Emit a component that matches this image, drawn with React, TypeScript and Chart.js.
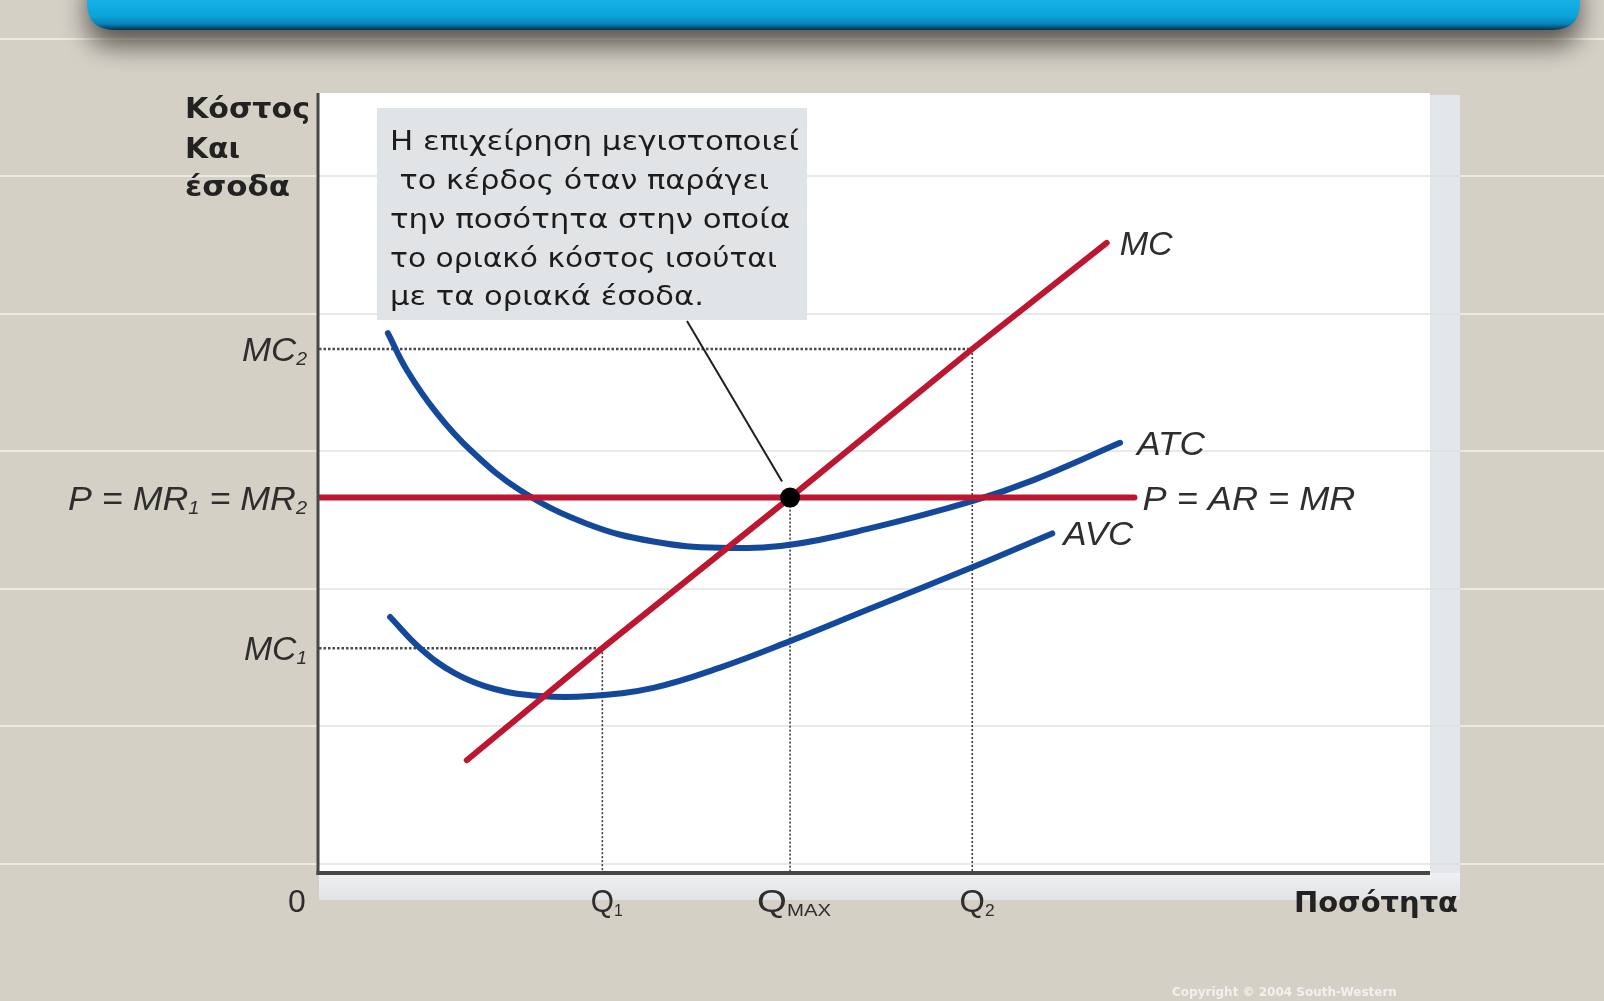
import React, { useEffect, useRef } from "react";
import { Chart, registerables } from "chart.js";

Chart.register(...registerables);

const W = 1604;
const H = 1001;

// ---------- Data ----------
// Quantity levels marked on the x axis: Q1, QMAX, Q2
const qValues = [25.5, 42.4, 58.8];
const qLabels = [["Q", "1"], ["Q", "MAX"], ["Q", "2"]];

// Cost / revenue levels marked on the y axis: MC1, P = MR, MC2
const costValues = [28.9, 48.25, 67.35];
const costLabels = [["MC", "1"], ["P = MR", "1", " = MR", "2"], ["MC", "2"]];

// Marginal cost
const mcQuantity = [13.3, 25.5, 42.4, 58.8, 70.9];
const mcCost = [14.5, 28.9, 48.25, 67.35, 81.0];

// Average total cost
const atcQuantity = [6.2, 7.9, 10.6, 13.6, 18.1, 24.1, 30.1, 36.1, 42.4, 49.3, 58.8, 64.3, 72.1];
const atcCost = [69.4, 64.65, 59.1, 54.4, 49.2, 44.9, 42.6, 41.8, 42.2, 44.2, 47.8, 50.5, 55.3];

// Average variable cost
const avcQuantity = [6.4, 9.1, 12.2, 15.8, 19.9, 24.4, 30.1, 36.1, 42.4, 49.3, 58.8, 66.0];
const avcCost = [32.9, 28.9, 25.7, 23.65, 22.75, 22.75, 23.8, 26.4, 29.8, 33.8, 39.3, 43.65];

// Price line P = AR = MR
const mrQuantity = [0, 73.4];
const mrPrice = [48.25, 48.25];

// Texts
const yTitle = ["Κόστος", "Και", "έσοδα"];
const xTitle = "Ποσότητα";
const zeroLabel = "0";
const curveLabels = ["MC", "ATC", "P = AR = MR", "AVC"];
const noteLines = [
  "Η επιχείρηση μεγιστοποιεί",
  " το κέρδος όταν παράγει",
  "την ποσότητα στην οποία",
  "το οριακό κόστος ισούται",
  "με τα οριακά έσοδα.",
];
const copyright = "Copyright © 2004 South-Western";

// ---------- Styles ----------
const RED = "#bd1631";
const BLUE = "#13489b";
const BG = "#d5d0c6";
const TEXT = "#2e2e2e";

type Align = "left" | "right" | "center" | "first";

function drawRich(
  ctx: CanvasRenderingContext2D,
  parts: string[],
  x: number,
  y: number,
  o: { align: Align; font: string; subFont?: string; subDy?: number; width?: number; color?: string }
) {
  ctx.save();
  const widths = parts.map((p, i) => {
    ctx.font = i % 2 && o.subFont ? o.subFont : o.font;
    return ctx.measureText(p).width;
  });
  const total = widths.reduce((a, b) => a + b, 0);
  const s = o.width ? o.width / total : 1;
  const dw = total * s;
  let x0 = x;
  if (o.align === "right") x0 = x - dw;
  else if (o.align === "center") x0 = x - dw / 2;
  else if (o.align === "first") x0 = x - (widths[0] * s) / 2;
  ctx.translate(x0, y);
  ctx.scale(s, 1);
  ctx.fillStyle = o.color || TEXT;
  ctx.textBaseline = "alphabetic";
  ctx.textAlign = "left";
  let cx = 0;
  parts.forEach((p, i) => {
    const sub = i % 2 === 1 && !!o.subFont;
    ctx.font = sub ? (o.subFont as string) : o.font;
    ctx.fillText(p, cx, sub ? o.subDy || 0 : 0);
    cx += widths[i];
  });
  ctx.restore();
}

function roundRectPath(ctx: CanvasRenderingContext2D, x: number, y: number, w: number, h: number, r: number) {
  ctx.beginPath();
  ctx.moveTo(x + r, y);
  ctx.lineTo(x + w - r, y);
  ctx.quadraticCurveTo(x + w, y, x + w, y + r);
  ctx.lineTo(x + w, y + h - r);
  ctx.quadraticCurveTo(x + w, y + h, x + w - r, y + h);
  ctx.lineTo(x + r, y + h);
  ctx.quadraticCurveTo(x, y + h, x, y + h - r);
  ctx.lineTo(x, y + r);
  ctx.quadraticCurveTo(x, y, x + r, y);
  ctx.closePath();
}

const slideLines = [39, 176, 314, 451, 589, 726, 864];

const backgroundPlugin = {
  id: "slideBackground",
  beforeDraw(chart: any) {
    const ctx: CanvasRenderingContext2D = chart.ctx;
    const a = chart.chartArea;
    ctx.save();
    ctx.fillStyle = BG;
    ctx.fillRect(0, 0, W, H);

    // faint slide lines
    ctx.strokeStyle = "rgba(238,234,226,0.95)";
    ctx.lineWidth = 2;
    slideLines.forEach((y) => {
      ctx.beginPath();
      ctx.moveTo(0, y);
      ctx.lineTo(W, y);
      ctx.stroke();
    });

    // banner with soft shadow
    ctx.save();
    ctx.shadowColor = "rgba(60,55,50,0.8)";
    ctx.shadowBlur = 26;
    ctx.shadowOffsetY = 16;
    const g = ctx.createLinearGradient(0, 0, 0, 30);
    g.addColorStop(0, "#16b2e4");
    g.addColorStop(0.55, "#0aa2d8");
    g.addColorStop(0.8, "#0a82b8");
    g.addColorStop(1, "#05324f");
    ctx.fillStyle = g;
    roundRectPath(ctx, 87, -40, 1493, 70, 28);
    ctx.fill();
    ctx.restore();

    // plot panel
    ctx.fillStyle = "#e3e7ec";
    ctx.fillRect(a.right, a.top, 30, a.bottom - a.top + 27);
    const bg = ctx.createLinearGradient(0, a.bottom, 0, a.bottom + 27);
    bg.addColorStop(0, "#eef0f3");
    bg.addColorStop(1, "#e2e3e3");
    ctx.fillStyle = bg;
    ctx.fillRect(a.left, a.bottom, a.right - a.left + 30, 27);
    ctx.fillStyle = "#ffffff";
    ctx.fillRect(a.left - 1, a.top - 2, a.right - a.left + 1, a.bottom - a.top + 2);

    // faint lines inside the panel
    ctx.strokeStyle = "rgba(222,222,222,0.9)";
    ctx.lineWidth = 1.5;
    slideLines.forEach((y) => {
      if (y > a.top && y < a.bottom) {
        ctx.beginPath();
        ctx.moveTo(a.left, y);
        ctx.lineTo(a.right + 30, y);
        ctx.stroke();
      }
    });

    // annotation box
    ctx.fillStyle = "#e1e4e7";
    ctx.fillRect(377, 108, 430, 212);
    const noteBase = [150, 189, 228, 267, 305];
    const noteWidth = [409, 379, 400, 387, 314];
    noteLines.forEach((t, i) => {
      drawRich(ctx, [t], 390, noteBase[i], { align: "left", font: '26px "DejaVu Sans"', width: noteWidth[i], color: "#1c1c1c" });
    });

    // copyright
    ctx.font = 'bold 12px "DejaVu Sans"';
    ctx.fillStyle = "rgba(255,255,255,0.7)";
    ctx.textBaseline = "alphabetic";
    ctx.fillText(copyright, 1172, 996);
    ctx.restore();
  },
};

const foregroundPlugin = {
  id: "labelsAndAxes",
  afterDatasetsDraw(chart: any) {
    const ctx: CanvasRenderingContext2D = chart.ctx;
    const a = chart.chartArea;
    const xs = chart.scales.x;
    const ys = chart.scales.y;
    ctx.save();

    // axes
    ctx.strokeStyle = "#474747";
    ctx.lineCap = "butt";
    ctx.lineWidth = 3;
    ctx.beginPath();
    ctx.moveTo(a.left - 1, a.top - 2);
    ctx.lineTo(a.left - 1, a.bottom + 2);
    ctx.stroke();
    ctx.lineWidth = 4;
    ctx.beginPath();
    ctx.moveTo(a.left - 2.5, a.bottom);
    ctx.lineTo(a.right, a.bottom);
    ctx.stroke();

    // pointer from note to equilibrium
    const dx = xs.getPixelForValue(qValues[1]);
    const dy = ys.getPixelForValue(costValues[1]);
    ctx.strokeStyle = "#1f1f1f";
    ctx.lineWidth = 2;
    ctx.beginPath();
    ctx.moveTo(687, 321);
    ctx.lineTo(dx - 8, dy - 16);
    ctx.stroke();

    // y tick labels
    const yLabelW = [63, 239, 65];
    costValues.forEach((v, i) => {
      drawRich(ctx, costLabels[i], a.left - 12, ys.getPixelForValue(v) + 12, {
        align: "right",
        font: 'italic 34px "Liberation Sans"',
        subFont: 'italic 19px "Liberation Sans"',
        subDy: 4,
        width: yLabelW[i],
      });
    });

    // x tick labels
    const base = a.bottom + 39;
    const xLabelW = [32, 74, 35];
    qValues.forEach((v, i) => {
      drawRich(ctx, qLabels[i], xs.getPixelForValue(v) + (i === 1 ? 4 : 0), base, {
        align: i === 1 ? "center" : "first",
        font: '32px "Liberation Sans"',
        subFont: '17px "Liberation Sans"',
        subDy: 4,
        width: xLabelW[i],
      });
    });
    drawRich(ctx, [zeroLabel], a.left - 22, base, { align: "center", font: '32px "Liberation Sans"' });
    drawRich(ctx, [xTitle], 1294, base, { align: "left", font: 'bold 28px "DejaVu Sans"', width: 164, color: "#222" });

    // y title
    const tBase = [118, 158, 196];
    const tW = [125, 55, 105];
    yTitle.forEach((t, i) => {
      drawRich(ctx, [t], 185, tBase[i], { align: "left", font: 'bold 28px "DejaVu Sans"', width: tW[i], color: "#222" });
    });

    // curve labels, next to the end of each curve
    const labelSets = [
      { ds: 2, dx: 13, w: 53 },
      { ds: 3, dx: 17, w: 68 },
      { ds: 1, dx: 8, w: 213 },
      { ds: 4, dx: 11, w: 70 },
    ];
    labelSets.forEach((l, i) => {
      const pts = chart.getDatasetMeta(l.ds).data;
      const p = pts[pts.length - 1];
      drawRich(ctx, [curveLabels[i]], p.x + l.dx, p.y + 12, {
        align: "left",
        font: 'italic 34px "Liberation Sans"',
        width: l.w,
      });
    });
    ctx.restore();
  },
};

function pts(xs: number[], ys: number[]) {
  return xs.map((x, i) => ({ x, y: ys[i] }));
}

export default function App() {
  const ref = useRef<HTMLCanvasElement>(null);

  useEffect(() => {
    const canvas = ref.current as HTMLCanvasElement;

    const guides: any[] = [];
    costValues.forEach((c, i) => {
      const q = qValues[i];
      if (i !== 1) {
        guides.push({
          data: [{ x: 0, y: c }, { x: q, y: c }],
          borderColor: "#4a4a4a",
          borderWidth: 2.5,
          borderDash: [2.5, 2],
          pointRadius: 0,
          order: 3,
        });
      }
      guides.push({
        data: [{ x: q, y: c }, { x: q, y: 0 }],
        borderColor: "#3a3a3a",
        borderWidth: 1.6,
        borderDash: [2, 2],
        pointRadius: 0,
        order: 3,
      });
    });

    const line = (data: any, color: string, order: number, tension: number) => ({
      data,
      borderColor: color,
      borderWidth: 6,
      borderCapStyle: "round",
      pointRadius: 0,
      fill: false,
      tension,
      order,
    });

    const chart = new Chart(canvas, {
      type: "line",
      data: {
        datasets: [
          {
            data: [{ x: qValues[1], y: costValues[1] }],
            showLine: false,
            pointRadius: 10,
            pointBackgroundColor: "#000",
            pointBorderColor: "#000",
            pointBorderWidth: 0,
            order: 0,
          } as any,
          line(pts(mrQuantity, mrPrice), RED, 1, 0),
          line(pts(mcQuantity, mcCost), RED, 1, 0),
          line(pts(atcQuantity, atcCost), BLUE, 2, 0.4),
          line(pts(avcQuantity, avcCost), BLUE, 2, 0.4),
          ...guides,
        ],
      },
      options: {
        animation: false,
        responsive: false,
        devicePixelRatio: 1,
        layout: { padding: { left: 319, right: 174, top: 95, bottom: 128 } },
        scales: {
          x: { type: "linear", min: 0, max: 100, display: false },
          y: { type: "linear", min: 0, max: 100, display: false },
        },
        plugins: { legend: { display: false }, tooltip: { enabled: false } },
        events: [],
      } as any,
      plugins: [backgroundPlugin, foregroundPlugin],
    });
    return () => chart.destroy();
  }, []);

  return (
    <div style={{ position: "fixed", left: 0, top: 0, width: W, height: H, background: BG }}>
      <canvas ref={ref} width={W} height={H} style={{ display: "block", width: W, height: H }} />
    </div>
  );
}
